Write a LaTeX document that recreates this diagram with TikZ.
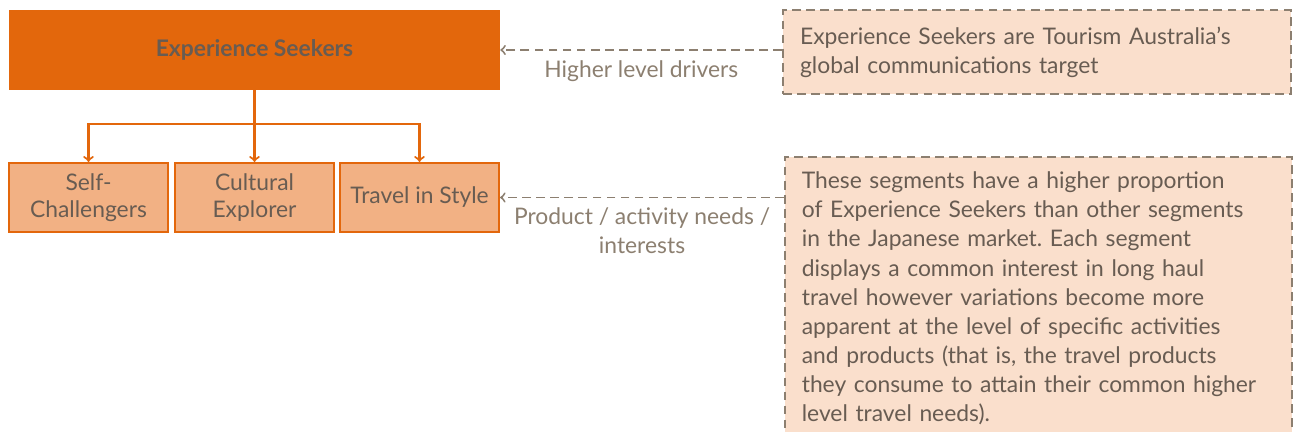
\documentclass[tikz,border=0pt]{standalone}
\usepackage{fontspec}
\setmainfont{Lato}
\usetikzlibrary{positioning}
\frenchspacing

\definecolor{naranja}{HTML}{E3670C}
\definecolor{naranjaclaro}{HTML}{F2B184}
\definecolor{durazno}{HTML}{FADFCC}
\definecolor{gristexto}{HTML}{685C52}
\definecolor{grislinea}{HTML}{8C7F70}

\tikzset{
  segmento/.style={draw=naranja, line width=1.2pt, fill=naranjaclaro,
    minimum width=3.18cm, minimum height=1.38cm, align=center,
    text=gristexto, font=\fontsize{13}{15}\selectfont},
  nota/.style={draw=grislinea, dash pattern=on 5pt off 3pt, line width=0.9pt,
    fill=durazno, text=gristexto, align=left, inner xsep=0.34cm,
    font=\fontsize{13}{16.6}\selectfont},
  flecha/.style={->, naranja, line width=1.2pt},
  guia/.style={->, grislinea, line width=1.1pt, dash pattern=on 5pt off 3pt},
  rotulo/.style={text=grislinea, align=center, font=\fontsize{13}{16.5}\selectfont}
}

\begin{document}
\begin{tikzpicture}[x=0.02cm, y=-0.02cm]
    \useasboundingbox (0, 0) rectangle (1293, 432);
    \clip (0, 0) rectangle (1293, 432);

    % Caja principal
    \node[fill=naranja, minimum width=9.82cm, minimum height=1.6cm,
          text=gristexto, font=\fontsize{13}{15}\selectfont\bfseries]
          (seekers) at (254.5, 50) {Experience Seekers};

    % Segmentos
    \node[segmento] (retadores) at (88.5, 197.5) {Self-\\Challengers};
    \node[segmento] (cultural) at (254.5, 197.5) {Cultural\\Explorer};
    \node[segmento] (estilo) at (419.5, 197.5) {Travel in Style};

    % Ramas
    \coordinate (rama) at (254.5, 124);
    \draw[naranja, line width=1.2pt] (seekers.south) -- (rama);
    \draw[flecha] (rama) -| (retadores.north);
    \draw[flecha] (rama) -- (cultural.north);
    \draw[flecha] (rama) -| (estilo.north);

    % Notas a la derecha
    \node[nota, text width=9.48cm, minimum height=1.68cm] (nota1) at (1037, 52)
        {Experience Seekers are Tourism Australia’s\\global communications target};
    \node[nota, text width=9.46cm, anchor=north west, inner ysep=0.3cm]
        (nota2) at (784, 156)
        {These segments have a higher proportion\\
         of Experience Seekers than other segments\\
         in the Japanese market. Each segment\\
         displays a common interest in long haul\\
         travel however variations become more\\
         apparent at the level of specific activities\\
         and products (that is, the travel products\\
         they consume to attain their common higher\\
         level travel needs).};

    % Flechas punteadas
    \draw[guia] (seekers.east -| nota1.west) -- (seekers.east)
        node[rotulo, midway, below=2pt] {Higher level drivers};
    \draw[guia] (estilo.east -| nota2.west) -- (estilo.east)
        node[rotulo, midway, below=2pt] {Product / activity needs /\\interests};
\end{tikzpicture}
\end{document}
